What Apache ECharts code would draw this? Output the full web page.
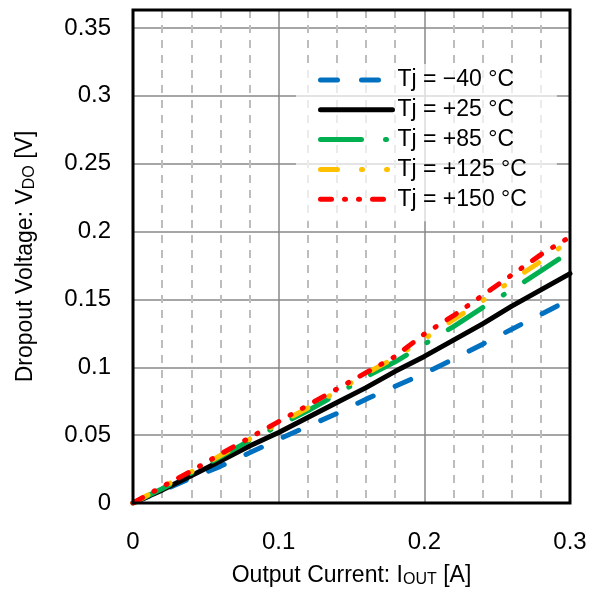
<!DOCTYPE html>
<html>
<head>
<meta charset="utf-8">
<script src="https://cdn.jsdelivr.net/npm/echarts@6/dist/echarts.min.js"></script>
<style>
html,body{margin:0;padding:0;background:#fff;}
#c{width:603px;height:593px;}
</style>
</head>
<body>
<div id="c"></div>
<script>
// Data
var currentA = [0, 0.02, 0.04, 0.06, 0.08, 0.10, 0.12, 0.14, 0.16, 0.18, 0.20, 0.22, 0.24, 0.26, 0.28, 0.30];
var vdoM40  = [0, 0.009, 0.0185, 0.027, 0.037, 0.047, 0.0565, 0.066, 0.0765, 0.086, 0.0955, 0.106, 0.117, 0.128, 0.139, 0.150];
var vdoP25  = [0, 0.0095, 0.020, 0.031, 0.042, 0.052, 0.063, 0.074, 0.085, 0.097, 0.108, 0.120, 0.132, 0.145, 0.157, 0.169];
var vdoP85  = [0, 0.0105, 0.022, 0.034, 0.046, 0.057, 0.068, 0.080, 0.093, 0.104, 0.117, 0.130, 0.144, 0.157, 0.171, 0.185];
var vdoP125 = [0, 0.0115, 0.023, 0.035, 0.047, 0.0585, 0.070, 0.082, 0.0955, 0.107, 0.121, 0.135, 0.149, 0.164, 0.178, 0.1935];
var vdoP150 = [0, 0.012, 0.0235, 0.036, 0.048, 0.060, 0.072, 0.084, 0.096, 0.108, 0.1245, 0.138, 0.153, 0.168, 0.183, 0.196];
var seriesNames = ['Tj = \u221240 \u00b0C', 'Tj = +25 \u00b0C', 'Tj = +85 \u00b0C', 'Tj = +125 \u00b0C', 'Tj = +150 \u00b0C'];
var xTicks = [0, 0.1, 0.2, 0.3];
var yTicks = [0, 0.05, 0.1, 0.15, 0.2, 0.25, 0.3, 0.35];

var allSeries = [vdoM40, vdoP25, vdoP85, vdoP125, vdoP150];
var colors = ['#0070C0', '#000000', '#00B050', '#FFC000', '#FF0000'];
var dashes = [[17, 24], 'solid', [41, 24, 1, 24], [17, 24, 1, 24, 1, 24], [11, 13, 1, 13, 1, 13]];

function pairs(xs, ys) { return xs.map(function (x, i) { return [x, ys[i]]; }); }

var FONT = 'Liberation Sans, Arial, sans-serif';
var chart = echarts.init(document.getElementById('c'), null, {renderer: 'canvas'});
var series = allSeries.map(function (ys, i) {
  return {
    name: seriesNames[i],
    type: 'line',
    data: pairs(currentA, ys),
    showSymbol: false,
    symbol: 'none',
    animation: false,
    lineStyle: {color: colors[i], width: 5, type: dashes[i], cap: 'round', join: 'round'},
    itemStyle: {color: colors[i]}
  };
});

chart.setOption({
  animation: false,
  grid: {left: 133, right: 33, top: 10, bottom: 87, show: true, borderColor: '#000', borderWidth: 3, backgroundColor: 'transparent', z: 10},
  legend: {
    orient: 'vertical', left: 296, top: 64,
    itemWidth: 72, itemHeight: 10, itemGap: 5.8,
    backgroundColor: 'rgba(255,255,255,0.7)',
    padding: [4, 30, 10, 22],
    itemStyle: {color: 'rgba(0,0,0,0)', borderWidth: 0, opacity: 0},
    lineStyle: {width: 5, cap: 'round'},
    textStyle: {fontFamily: FONT, fontSize: 23, lineHeight: 24, color: '#000'},
    data: seriesNames.map(function (n) { return {name: n}; })
  },
  xAxis: {
    type: 'value', min: xTicks[0], max: xTicks[xTicks.length - 1], interval: 0.1,
    axisLine: {show: false}, axisTick: {show: false},
    axisLabel: {fontFamily: FONT, fontSize: 24, color: '#000', margin: 27},
    splitLine: {show: true, lineStyle: {color: '#888888', width: 1.5}},
    minorTick: {show: false, splitNumber: 5},
    minorSplitLine: {show: true, lineStyle: {color: '#bdbdbd', width: 2, type: [8, 7]}},
    name: 'Output Current: I{s|OUT} [A]', nameLocation: 'middle', nameGap: 60,
    nameTextStyle: {fontFamily: FONT, fontSize: 23, color: '#000',
      rich: {s: {fontFamily: FONT, fontSize: 16, color: '#000', padding: [9, 0, 0, 0]}}}
  },
  yAxis: {
    type: 'value', min: yTicks[0], max: 0.3632, interval: 0.05,
    axisLine: {show: false}, axisTick: {show: false},
    axisLabel: {fontFamily: FONT, fontSize: 24, color: '#000', margin: 22, showMaxLabel: false},
    splitLine: {show: true, lineStyle: {color: '#888888', width: 1.5}},
    name: 'Dropout Voltage: V{s|DO} [V]', nameLocation: 'middle', nameGap: 95, nameRotate: 90,
    nameTextStyle: {fontFamily: FONT, fontSize: 23, color: '#000',
      rich: {s: {fontFamily: FONT, fontSize: 16, color: '#000', padding: [9, 0, 0, 0]}}}
  },
  series: series
});
</script>
</body>
</html>
